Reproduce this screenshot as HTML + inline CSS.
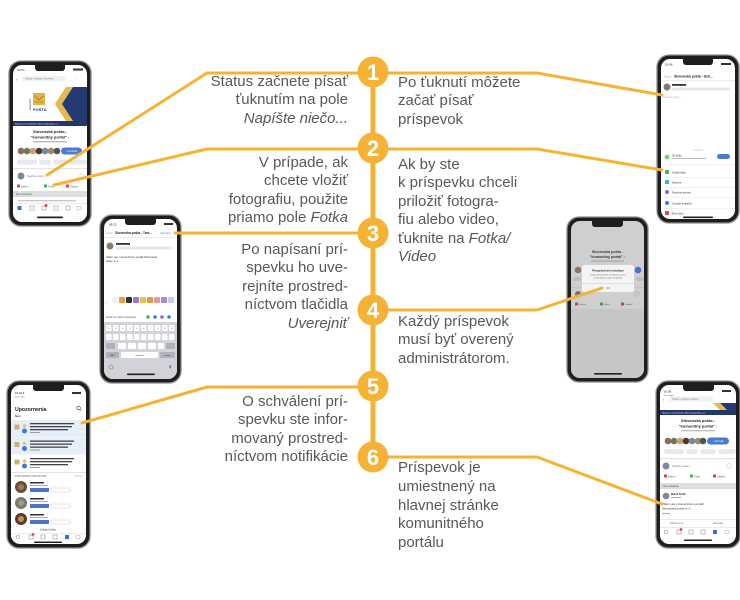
<!DOCTYPE html>
<html><head><meta charset="utf-8">
<style>
html,body{margin:0;padding:0;background:#fff;}
#wrap{position:relative;width:740px;height:600px;overflow:hidden;background:#fff;font-family:"Liberation Sans",Arial,sans-serif;}
svg{position:absolute;left:0;top:0;}
.t{position:absolute;font-size:15px;line-height:18.4px;color:#58585a;white-space:nowrap;z-index:3;}
.l{text-align:right;right:392px;}
.r{text-align:left;left:398px;}
i{font-style:italic;}
</style></head><body>
<div id="wrap">
<svg width="740" height="600" viewBox="0 0 740 600" font-family="Liberation Sans, Arial, sans-serif">
<defs>
<clipPath id="c4"><rect x="571" y="221" width="73" height="157" rx="9"/></clipPath>
<clipPath id="c3"><rect x="104" y="219" width="73" height="160" rx="9"/></clipPath>
</defs>

<!-- ============ PHONE 1 ============ -->
<rect x="9" y="61" width="82" height="165" rx="12" fill="#1e1e1e" stroke="#8e8e8e" stroke-width="1.3"/>
<rect x="13" y="65" width="74" height="157" rx="9" fill="#fff"/>
<path d="M35 65 h30 v3 a3 3 0 0 1 -3 3 h-24 a3 3 0 0 1 -3 -3z" fill="#1e1e1e"/>
<text x="17" y="71" font-size="3" fill="#222">10:04</text>
<rect x="73" y="68.5" width="10" height="2" fill="#333"/>
<text x="16" y="81" font-size="4" fill="#333">‹</text>
<rect x="22" y="76" width="44" height="5" rx="2.5" fill="#eef0f3"/>
<text x="25" y="79.6" font-size="2.4" fill="#888">Hľadať v skupine Slovensk...</text>
<text x="74" y="80" font-size="3" fill="#444">···</text>
<!-- banner -->
<rect x="33" y="93" width="12" height="12" fill="#e5b447"/>
<path d="M35 96 l4 4 l4 -4 M35 102 h8" stroke="#8a6a2a" stroke-width="0.6" fill="none"/>
<text x="33" y="111" font-size="4" font-weight="bold" fill="#1e3a78">POŠTA</text>
<text x="0" y="0" font-size="2.4" fill="#1e3a78" transform="translate(31,110) rotate(-90)">Slovenská</text>
<polygon points="66,87 73,87 62,104 73,121 66,121 55,104" fill="#e9b84a"/>
<polygon points="73,87 87,87 87,121 73,121 62,104" fill="#233a72"/>
<rect x="13" y="121" width="74" height="5" fill="#23386a"/>
<text x="15" y="124.5" font-size="2.2" fill="#fff">Skupina na Facebooku Slovenská pošta, a.s.</text>
<text x="50" y="133" font-size="4" font-weight="bold" fill="#222" text-anchor="middle">Slovenská pošta -</text>
<text x="50" y="138.5" font-size="4" font-weight="bold" fill="#222" text-anchor="middle">"komunitný portál" ·</text>
<rect x="33" y="141" width="34" height="1.4" fill="#bbb"/>
<circle cx="21" cy="151" r="3.3" fill="#8a6d5a"/><circle cx="27" cy="151" r="3.3" fill="#6d7a5a"/>
<circle cx="33" cy="151" r="3.3" fill="#c9a07a"/><circle cx="39" cy="151" r="3.3" fill="#4a3a30"/>
<circle cx="45" cy="151" r="3.3" fill="#7a8a9a"/><circle cx="51" cy="151" r="3.3" fill="#a08a6a"/>
<circle cx="57" cy="151" r="3.3" fill="#4a5a4a"/>
<rect x="61" y="147.5" width="21" height="7" rx="3.5" fill="#4a7bd0"/>
<text x="71.5" y="152" font-size="2.8" fill="#fff" text-anchor="middle">+ Pozvať</text>
<rect x="17" y="159.5" width="20" height="5" rx="2.5" fill="#e8e9ec"/>
<rect x="39" y="159.5" width="12" height="5" rx="2.5" fill="#e8e9ec"/>
<rect x="53" y="159.5" width="14" height="5" rx="2.5" fill="#e8e9ec"/>
<rect x="69" y="159.5" width="18" height="5" rx="2.5" fill="#e8e9ec"/>
<rect x="13" y="168" width="74" height="1.2" fill="#e4e4e4"/>
<circle cx="21" cy="176" r="3.5" fill="#7a8a9a"/>
<text x="27" y="177" font-size="2.8" fill="#777">Napíšte niečo...</text>
<circle cx="81" cy="176" r="2.4" fill="none" stroke="#ccc" stroke-width="0.6"/>
<rect x="17" y="184.5" width="3" height="3" fill="#e0454a"/><text x="21" y="187.3" font-size="2.4" fill="#666">Naživo</text>
<rect x="44" y="184.5" width="3" height="3" fill="#45b057"/><text x="48" y="187.3" font-size="2.4" fill="#666">Fotka</text>
<rect x="66" y="184.5" width="3" height="3" fill="#e0454a"/><text x="70" y="187.3" font-size="2.4" fill="#666">Udalosť</text>
<rect x="13" y="191" width="74" height="6" fill="#dcdde0"/>
<text x="16" y="195" font-size="2.3" fill="#555">Nové príspevky</text>
<rect x="18" y="200" width="58" height="1.4" fill="#c8c8c8"/>
<rect x="13" y="203" width="74" height="0.6" fill="#ddd"/>
<rect x="17.5" y="206" width="4" height="4" fill="#3b6fd0"/>
<rect x="30" y="206" width="4" height="4" fill="none" stroke="#999" stroke-width="0.6"/>
<rect x="42" y="206" width="4" height="4" fill="none" stroke="#999" stroke-width="0.6"/><circle cx="46" cy="205.5" r="1.5" fill="#e0454a"/>
<rect x="54" y="206" width="4" height="4" fill="none" stroke="#999" stroke-width="0.6"/>
<rect x="66" y="206" width="4" height="4" fill="none" stroke="#999" stroke-width="0.6"/>
<rect x="77" y="206.5" width="4" height="3" fill="none" stroke="#bbb" stroke-width="0.6"/>
<rect x="37" y="216.5" width="26" height="1.8" rx="0.9" fill="#222"/>

<!-- ============ PHONE 2 ============ -->
<rect x="657" y="55" width="82" height="168" rx="12" fill="#1e1e1e" stroke="#8e8e8e" stroke-width="1.3"/>
<rect x="661" y="59" width="74" height="160" rx="9" fill="#fff"/>
<path d="M683 59 h30 v3 a3 3 0 0 1 -3 3 h-24 a3 3 0 0 1 -3 -3z" fill="#1e1e1e"/>
<text x="665" y="65.5" font-size="3" fill="#222">10:06</text>
<rect x="721" y="63" width="10" height="2" fill="#333"/>
<text x="664" y="77.5" font-size="2.8" fill="#8aa3d8">Zrušiť</text>
<text x="674" y="77.5" font-size="3.4" font-weight="bold" fill="#222">Slovenská pošta - Seb...</text>
<rect x="661" y="80.5" width="74" height="0.6" fill="#ddd"/>
<circle cx="667" cy="87" r="3.5" fill="#8a7a6a"/>
<rect x="672" y="84" width="14" height="1.8" fill="#333"/>
<rect x="672" y="87.5" width="58" height="3" rx="1.5" fill="#e8e8e8"/>
<text x="663" y="98" font-size="2.6" fill="#bbb">Napíšte niečo...</text>
<rect x="693" y="149.5" width="10" height="0.8" fill="#ccc"/>
<circle cx="667" cy="157" r="2.4" fill="#6fcf8a"/>
<text x="672" y="156.5" font-size="2.6" fill="#333">3D fotka</text>
<rect x="672" y="158" width="34" height="1" fill="#bbb"/>
<rect x="717" y="154" width="13" height="5" rx="2.5" fill="#4a7bd0"/>
<rect x="664" y="164" width="71" height="0.5" fill="#e3e3e3"/>
<rect x="665" y="170" width="4" height="4" rx="0.8" fill="#47b464"/><text x="672" y="173.3" font-size="2.6" fill="#333">Fotka/Video</text>
<rect x="664" y="177" width="71" height="0.5" fill="#e3e3e3"/>
<rect x="665" y="180" width="4" height="4" rx="0.8" fill="#3bb2c4"/><text x="672" y="183.3" font-size="2.6" fill="#333">Kamera</text>
<rect x="664" y="187" width="71" height="0.5" fill="#e3e3e3"/>
<circle cx="667" cy="192" r="2" fill="#8a6ad0"/><text x="672" y="193.3" font-size="2.6" fill="#333">Pocitová aktivita</text>
<rect x="664" y="197.5" width="71" height="0.5" fill="#e3e3e3"/>
<circle cx="667" cy="203" r="2" fill="#3b7be0"/><text x="672" y="204.3" font-size="2.6" fill="#333">Označiť priateľov</text>
<rect x="664" y="208" width="71" height="0.5" fill="#e3e3e3"/>
<rect x="665" y="211" width="4" height="4" rx="0.8" fill="#e0454a"/><text x="672" y="214.3" font-size="2.6" fill="#333">Živé video</text>
<rect x="683" y="216.5" width="30" height="1.6" rx="0.8" fill="#222"/>

<!-- ============ PHONE 3 ============ -->
<rect x="100" y="215" width="81" height="168" rx="12" fill="#1e1e1e" stroke="#8e8e8e" stroke-width="1.3"/>
<rect x="104" y="219" width="73" height="160" rx="9" fill="#fff"/>
<g clip-path="url(#c3)">
<rect x="104" y="322" width="73" height="58" fill="#d1d3d9"/>
</g>
<path d="M125 219 h31 v3 a3 3 0 0 1 -3 3 h-25 a3 3 0 0 1 -3 -3z" fill="#1e1e1e"/>
<text x="109" y="225.5" font-size="3" fill="#222">09:22</text>
<rect x="164" y="223" width="9" height="2" fill="#333"/>
<text x="106" y="234" font-size="2.6" fill="#9aa8c8">Zrušiť</text>
<text x="115" y="234" font-size="3.2" font-weight="bold" fill="#222">Slovenská pošta - Tem...</text>
<text x="160" y="234" font-size="2.6" fill="#4a7bd0">Uverejniť</text>
<rect x="104" y="237" width="73" height="0.6" fill="#ddd"/>
<circle cx="110" cy="246" r="3.5" fill="#8a7a6a"/>
<rect x="116" y="243" width="14" height="1.8" fill="#333"/>
<rect x="116" y="246.5" width="56" height="3" rx="1.5" fill="#e8e8e8"/>
<text x="106" y="258" font-size="2.7" fill="#333">Vitám vás v komunitnom portáli Slovenskej</text>
<text x="106" y="262" font-size="2.7" fill="#333">pošty, a. s.</text>
<text x="106" y="304" font-size="4" fill="#888">‹</text>
<rect x="112" y="297" width="6" height="6" rx="1" fill="#f0f0f0"/>
<rect x="119" y="297" width="6" height="6" rx="1" fill="#e7a23a"/>
<rect x="126" y="297" width="6" height="6" rx="1" fill="#333"/>
<rect x="133" y="297" width="6" height="6" rx="1" fill="#9a7ad0"/>
<rect x="140" y="297" width="6" height="6" rx="1" fill="#e9c04a"/>
<rect x="147" y="297" width="6" height="6" rx="1" fill="#e59a4a"/>
<rect x="154" y="297" width="6" height="6" rx="1" fill="#e89a9a"/>
<rect x="161" y="297" width="6" height="6" rx="1" fill="#a98ad8"/>
<rect x="168" y="297" width="6" height="6" rx="1" fill="#c8c8e8"/>
<text x="106" y="318" font-size="2.6" fill="#555">Pridať do vášho príspevku</text>
<circle cx="148" cy="317" r="1.8" fill="#47b464"/><circle cx="155" cy="317" r="1.8" fill="#3b7be0"/>
<circle cx="162" cy="317" r="1.8" fill="#8a6ad0"/><circle cx="169" cy="317" r="1.8" fill="#3b7be0"/>
<g fill="#fff">
<rect x="106" y="325" width="5.5" height="6" rx="0.8"/><rect x="113" y="325" width="5.5" height="6" rx="0.8"/><rect x="120" y="325" width="5.5" height="6" rx="0.8"/><rect x="127" y="325" width="5.5" height="6" rx="0.8"/><rect x="134" y="325" width="5.5" height="6" rx="0.8"/><rect x="141" y="325" width="5.5" height="6" rx="0.8"/><rect x="148" y="325" width="5.5" height="6" rx="0.8"/><rect x="155" y="325" width="5.5" height="6" rx="0.8"/><rect x="162" y="325" width="5.5" height="6" rx="0.8"/><rect x="169" y="325" width="5.5" height="6" rx="0.8"/>
<rect x="106" y="334" width="5.5" height="6" rx="0.8"/><rect x="113" y="334" width="5.5" height="6" rx="0.8"/><rect x="120" y="334" width="5.5" height="6" rx="0.8"/><rect x="127" y="334" width="5.5" height="6" rx="0.8"/><rect x="134" y="334" width="5.5" height="6" rx="0.8"/><rect x="141" y="334" width="5.5" height="6" rx="0.8"/><rect x="148" y="334" width="5.5" height="6" rx="0.8"/><rect x="155" y="334" width="5.5" height="6" rx="0.8"/><rect x="162" y="334" width="5.5" height="6" rx="0.8"/><rect x="169" y="334" width="5.5" height="6" rx="0.8"/>
<rect x="118" y="343" width="8" height="6" rx="0.8"/><rect x="128" y="343" width="8" height="6" rx="0.8"/><rect x="138" y="343" width="8" height="6" rx="0.8"/><rect x="148" y="343" width="8" height="6" rx="0.8"/><rect x="158" y="343" width="6" height="6" rx="0.8"/>
<rect x="121" y="352" width="37" height="6" rx="0.8"/>
</g>
<g fill="#aeb2bb">
<rect x="106" y="343" width="9" height="6" rx="0.8"/><rect x="166" y="343" width="9" height="6" rx="0.8"/>
<rect x="106" y="352" width="13" height="6" rx="0.8"/><rect x="160" y="352" width="15" height="6" rx="0.8"/>
</g>
<g font-size="2.2" fill="#333" text-anchor="middle">
<text x="108.8" y="329.2">1</text><text x="115.8" y="329.2">2</text><text x="122.8" y="329.2">3</text><text x="129.8" y="329.2">4</text><text x="136.8" y="329.2">5</text><text x="143.8" y="329.2">6</text><text x="150.8" y="329.2">7</text><text x="157.8" y="329.2">8</text><text x="164.8" y="329.2">9</text><text x="171.8" y="329.2">0</text>
<text x="139.5" y="356.2">medzera</text><text x="112.5" y="356.2">ABC</text><text x="167.5" y="356.2">return</text>
</g>
<circle cx="111" cy="367" r="2" fill="none" stroke="#777" stroke-width="0.6"/>
<rect x="169.5" y="365" width="1.6" height="3.5" rx="0.8" fill="#777"/>
<rect x="127" y="373.5" width="28" height="1.6" rx="0.8" fill="#222"/>

<!-- ============ PHONE 4 ============ -->
<rect x="567" y="217" width="81" height="165" rx="12" fill="#1e1e1e" stroke="#8e8e8e" stroke-width="1.3"/>
<rect x="571" y="221" width="73" height="157" rx="9" fill="#cfcfcf"/>
<path d="M592 221 h31 v3 a3 3 0 0 1 -3 3 h-25 a3 3 0 0 1 -3 -3z" fill="#1e1e1e"/>
<g clip-path="url(#c4)">
<text x="607.5" y="253" font-size="3.7" font-weight="bold" fill="#3a3a3a" text-anchor="middle">Slovenská pošta -</text>
<text x="607.5" y="258" font-size="3.7" font-weight="bold" fill="#3a3a3a" text-anchor="middle">"komunitný portál" ·</text>
<rect x="591" y="260.5" width="33" height="1.2" fill="#a8a8a8"/>
<circle cx="578" cy="270" r="3.3" fill="#8a7666"/>
<circle cx="638" cy="270" r="3.3" fill="#4a72c4"/>
<rect x="573" y="277" width="8" height="4" rx="2" fill="#bdbdbd"/>
<rect x="636" y="277" width="8" height="4" rx="2" fill="#bdbdbd"/>
<rect x="571" y="287" width="73" height="0.6" fill="#bbb"/>
<circle cx="578" cy="294" r="3" fill="#7a7066"/>
<circle cx="637" cy="294" r="2.2" fill="none" stroke="#aaa" stroke-width="0.6"/>
<rect x="575" y="302.5" width="3" height="3" fill="#c04a4a"/><text x="579" y="305" font-size="2.2" fill="#555">Naživo</text>
<rect x="600" y="302.5" width="3" height="3" fill="#4a9a5a"/><text x="604" y="305" font-size="2.2" fill="#555">Fotka</text>
<rect x="621" y="302.5" width="3" height="3" fill="#c04a4a"/><text x="625" y="305" font-size="2.2" fill="#555">Udalosť</text>
<rect x="571" y="309" width="73" height="69" fill="#c6c6c6"/>
</g>
<rect x="582" y="265" width="52" height="27" rx="2.5" fill="#f4f4f4"/>
<text x="608" y="271.5" font-size="2.8" font-weight="bold" fill="#222" text-anchor="middle">Príspevok bol odoslaný</text>
<text x="608" y="275.5" font-size="2" fill="#555" text-anchor="middle">Váš príspevok bude zverejnený, keď ho</text>
<text x="608" y="278.3" font-size="2" fill="#555" text-anchor="middle">schváli správca alebo moderátor.</text>
<rect x="582" y="283" width="52" height="0.5" fill="#ccc"/>
<text x="608" y="289" font-size="2.8" fill="#4a7bd0" text-anchor="middle">OK</text>
<rect x="594" y="373" width="28" height="1.6" rx="0.8" fill="#222"/>

<!-- ============ PHONE 5 ============ -->
<rect x="7" y="381" width="83" height="167" rx="12" fill="#1e1e1e" stroke="#8e8e8e" stroke-width="1.3"/>
<rect x="11" y="385" width="75" height="159" rx="9" fill="#fff"/>
<path d="M33 385 h31 v3 a3 3 0 0 1 -3 3 h-25 a3 3 0 0 1 -3 -3z" fill="#1e1e1e"/>
<text x="15" y="394" font-size="2.8" fill="#222">10:04 ▾</text>
<text x="15" y="397.5" font-size="2" fill="#666">Messenger</text>
<rect x="72" y="392" width="9" height="2" fill="#333"/>
<text x="15" y="411" font-size="5.2" font-weight="bold" fill="#222">Upozornenia</text>
<circle cx="78.5" cy="408" r="1.8" fill="none" stroke="#333" stroke-width="0.6"/>
<path d="M79.8 409.3 l1.4 1.4" stroke="#333" stroke-width="0.6"/>
<text x="15" y="417" font-size="2.3" font-weight="bold" fill="#333">Nové</text>
<rect x="11" y="420" width="75" height="17" fill="#e6eefa"/>
<rect x="11" y="437.5" width="75" height="17" fill="#e6eefa"/>
<g>
<rect x="14.5" y="424.5" width="5" height="5" fill="#c9b07a"/><circle cx="24.5" cy="426" r="1.8" fill="#e7c96a"/><circle cx="24.5" cy="431" r="2.5" fill="#3b7be0"/>
<rect x="30" y="423" width="44" height="1.3" fill="#444"/><rect x="30" y="426" width="42" height="1.3" fill="#444"/><rect x="30" y="429" width="38" height="1.3" fill="#444"/><rect x="30" y="432" width="10" height="1" fill="#999"/>
<text x="78" y="429" font-size="3" fill="#444">···</text>
</g>
<g transform="translate(0,17.5)">
<rect x="14.5" y="424.5" width="5" height="5" fill="#c9b07a"/><circle cx="24.5" cy="426" r="1.8" fill="#e7c96a"/><circle cx="24.5" cy="431" r="2.5" fill="#3b7be0"/>
<rect x="30" y="423" width="44" height="1.3" fill="#444"/><rect x="30" y="426" width="42" height="1.3" fill="#444"/><rect x="30" y="429" width="38" height="1.3" fill="#444"/><rect x="30" y="432" width="10" height="1" fill="#999"/>
<text x="78" y="429" font-size="3" fill="#444">···</text>
</g>
<g transform="translate(0,35)">
<rect x="14.5" y="424.5" width="5" height="5" fill="#c9b07a"/><circle cx="24.5" cy="426" r="1.8" fill="#e7c96a"/><circle cx="24.5" cy="431" r="2.5" fill="#3b7be0"/>
<rect x="30" y="423" width="44" height="1.3" fill="#444"/><rect x="30" y="426" width="42" height="1.3" fill="#444"/><rect x="30" y="429" width="38" height="1.3" fill="#444"/><rect x="30" y="432" width="10" height="1" fill="#999"/>
<text x="78" y="429" font-size="3" fill="#444">···</text>
</g>
<rect x="11" y="472" width="75" height="0.8" fill="#ddd"/>
<text x="15" y="476.5" font-size="2.2" font-weight="bold" fill="#333">Ľudia, ktorých možno poznáte</text>
<text x="75" y="476.5" font-size="2" fill="#888">Zobraziť</text>
<circle cx="21" cy="487" r="6" fill="#6a4a3a"/><circle cx="21" cy="487" r="3" fill="#a07a5a"/>
<rect x="30" y="482" width="14" height="1.5" fill="#333"/><rect x="30" y="485" width="18" height="1" fill="#aaa"/>
<rect x="30" y="488" width="19" height="4" rx="0.6" fill="#4a72c4"/><rect x="51" y="488" width="19" height="4" rx="0.6" fill="#fff" stroke="#ccc" stroke-width="0.5"/>
<circle cx="21" cy="503" r="6" fill="#7a7a6a"/><circle cx="21" cy="503" r="3" fill="#9a9a8a"/>
<rect x="30" y="498" width="14" height="1.5" fill="#333"/><rect x="30" y="501" width="18" height="1" fill="#aaa"/>
<rect x="30" y="504" width="19" height="4" rx="0.6" fill="#4a72c4"/><rect x="51" y="504" width="19" height="4" rx="0.6" fill="#fff" stroke="#ccc" stroke-width="0.5"/>
<circle cx="21" cy="519" r="6" fill="#5a3a2a"/><circle cx="21" cy="519" r="3" fill="#c09060"/>
<rect x="30" y="514" width="14" height="1.5" fill="#333"/><rect x="30" y="517" width="18" height="1" fill="#aaa"/>
<rect x="30" y="520" width="19" height="4" rx="0.6" fill="#4a72c4"/><rect x="51" y="520" width="19" height="4" rx="0.6" fill="#fff" stroke="#ccc" stroke-width="0.5"/>
<text x="48" y="530.5" font-size="2.3" fill="#333" text-anchor="middle">Zobraziť všetky</text>
<rect x="11" y="533" width="75" height="0.5" fill="#ddd"/>
<circle cx="18" cy="537" r="1.8" fill="none" stroke="#999" stroke-width="0.6"/>
<rect x="29" y="535" width="4" height="4" fill="none" stroke="#999" stroke-width="0.6"/><circle cx="33" cy="534.5" r="1.4" fill="#e0454a"/>
<rect x="41" y="535" width="4" height="4" fill="none" stroke="#999" stroke-width="0.6"/>
<rect x="53" y="535" width="4" height="4" fill="none" stroke="#999" stroke-width="0.6"/>
<rect x="65" y="535" width="4" height="4" fill="#3b6fd0"/>
<rect x="76" y="535.5" width="4" height="3" fill="none" stroke="#bbb" stroke-width="0.6"/>
<rect x="34" y="541.5" width="28" height="1.5" rx="0.75" fill="#222"/>

<!-- ============ PHONE 6 ============ -->
<rect x="656" y="381" width="84" height="167" rx="12" fill="#1e1e1e" stroke="#8e8e8e" stroke-width="1.3"/>
<rect x="660" y="385" width="76" height="159" rx="9" fill="#fff"/>
<path d="M683 385 h31 v3 a3 3 0 0 1 -3 3 h-25 a3 3 0 0 1 -3 -3z" fill="#1e1e1e"/>
<text x="664" y="392.5" font-size="2.8" fill="#222">10:08</text>
<text x="664" y="395.8" font-size="2" fill="#666">Messenger</text>
<rect x="722" y="390" width="9" height="2" fill="#333"/>
<text x="663" y="401" font-size="4" fill="#333">‹</text>
<rect x="669" y="396.5" width="44" height="5" rx="2.5" fill="#eef0f3"/>
<text x="672" y="400" font-size="2.4" fill="#888">Hľadať v skupine Sloven...</text>
<text x="726" y="400.5" font-size="3" fill="#444">···</text>
<polygon points="713,403 720,403 727,410 720,410" fill="#e9b84a"/>
<polygon points="720,403 736,403 736,410 727,410" fill="#233a72"/>
<rect x="660" y="410" width="76" height="5" fill="#23386a"/>
<text x="662" y="413.5" font-size="2.2" fill="#fff">Skupina na Facebooku Slovenská pošta, a.s.</text>
<text x="698" y="422" font-size="4" font-weight="bold" fill="#222" text-anchor="middle">Slovenská pošta -</text>
<text x="698" y="427.5" font-size="4" font-weight="bold" fill="#222" text-anchor="middle">"komunitný portál" ·</text>
<rect x="681" y="430" width="34" height="1.3" fill="#bbb"/>
<circle cx="668" cy="441" r="3.3" fill="#8a6d5a"/><circle cx="674" cy="441" r="3.3" fill="#6d7a5a"/>
<circle cx="680" cy="441" r="3.3" fill="#c9a07a"/><circle cx="686" cy="441" r="3.3" fill="#4a3a30"/>
<circle cx="692" cy="441" r="3.3" fill="#7a8a9a"/><circle cx="698" cy="441" r="3.3" fill="#a08a6a"/>
<circle cx="703" cy="441" r="3.3" fill="#4a5a4a"/>
<rect x="707" y="437.5" width="22" height="7" rx="3.5" fill="#4a7bd0"/>
<text x="718" y="442" font-size="2.8" fill="#fff" text-anchor="middle">+ Pozvať</text>
<rect x="664" y="449" width="20" height="5" rx="2.5" fill="#e8e9ec"/>
<rect x="686" y="449" width="12" height="5" rx="2.5" fill="#e8e9ec"/>
<rect x="700" y="449" width="16" height="5" rx="2.5" fill="#e8e9ec"/>
<rect x="718" y="449" width="18" height="5" rx="2.5" fill="#e8e9ec"/>
<rect x="660" y="458" width="76" height="1.2" fill="#e4e4e4"/>
<circle cx="666" cy="466" r="3.5" fill="#7a8a9a"/>
<text x="672" y="467" font-size="2.8" fill="#777">Napíšte niečo...</text>
<circle cx="729" cy="466" r="2.4" fill="none" stroke="#ccc" stroke-width="0.6"/>
<rect x="664" y="474.5" width="3" height="3" fill="#e0454a"/><text x="668" y="477.3" font-size="2.4" fill="#666">Naživo</text>
<rect x="690" y="474.5" width="3" height="3" fill="#45b057"/><text x="694" y="477.3" font-size="2.4" fill="#666">Fotka</text>
<rect x="713" y="474.5" width="3" height="3" fill="#e0454a"/><text x="717" y="477.3" font-size="2.4" fill="#666">Udalosť</text>
<rect x="660" y="483" width="76" height="6" fill="#dcdde0"/>
<text x="663" y="487" font-size="2.3" fill="#555">Nové príspevky</text>
<circle cx="666" cy="496" r="3.3" fill="#7a8a9a"/>
<text x="671" y="495" font-size="2.5" font-weight="bold" fill="#222">Marek Smith</text>
<rect x="671" y="497" width="10" height="1" fill="#aaa"/>
<text x="727" y="495" font-size="3" fill="#444">···</text>
<text x="662" y="505" font-size="3" fill="#333">Vitám vás v komunitnom portáli</text>
<text x="662" y="509.5" font-size="3" fill="#333">Slovenskej pošty a. s.</text>
<rect x="662" y="513" width="8" height="1" fill="#aaa"/>
<rect x="660" y="519" width="76" height="0.6" fill="#ddd"/>
<text x="670" y="524" font-size="2.3" fill="#666">Páči sa mi to</text>
<text x="713" y="524" font-size="2.3" fill="#666">Komentár</text>
<rect x="660" y="527" width="76" height="0.6" fill="#ddd"/>
<circle cx="666" cy="532" r="1.8" fill="none" stroke="#999" stroke-width="0.6"/>
<rect x="677" y="530" width="4" height="4" fill="none" stroke="#999" stroke-width="0.6"/><circle cx="681" cy="529.5" r="1.4" fill="#e0454a"/>
<rect x="689" y="530" width="4" height="4" fill="none" stroke="#999" stroke-width="0.6"/>
<rect x="701" y="530" width="4" height="4" fill="none" stroke="#999" stroke-width="0.6"/>
<rect x="713" y="530" width="4" height="4" fill="#3b6fd0"/>
<rect x="725" y="530.5" width="4" height="3" fill="none" stroke="#bbb" stroke-width="0.6"/>
<rect x="684" y="539.5" width="28" height="1.5" rx="0.75" fill="#222"/>

<!-- ============ CONNECTORS ============ -->
<g stroke="#F5B335" fill="none" stroke-linejoin="round" stroke-linecap="round">
<line x1="373" y1="72" x2="373" y2="457" stroke-width="5"/>
<polyline points="373,73 207,73 47,175" stroke-width="3"/>
<polyline points="373,149 207,149 54,185" stroke-width="3"/>
<polyline points="373,233 175,233" stroke-width="3"/>
<polyline points="373,387 207,387 82,423" stroke-width="3"/>
<polyline points="373,73 537,73 662,95" stroke-width="3"/>
<polyline points="373,149 537,149 662,170" stroke-width="3"/>
<polyline points="373,310 537,310 602,288" stroke-width="3"/>
<polyline points="373,457 537,457 662,504" stroke-width="3"/>
</g>
<g fill="#F5B335">
<circle cx="373" cy="72" r="15.5"/>
<circle cx="373" cy="148" r="15.5"/>
<circle cx="373" cy="233" r="15.5"/>
<circle cx="373" cy="310" r="15.5"/>
<circle cx="373" cy="386" r="15.5"/>
<circle cx="373" cy="457" r="15.5"/>
</g>
<g fill="#fff" font-size="22" font-weight="bold" text-anchor="middle">
<text x="373" y="80">1</text>
<text x="373" y="156">2</text>
<text x="373" y="241">3</text>
<text x="373" y="318">4</text>
<text x="373" y="394">5</text>
<text x="373" y="465">6</text>
</g>
</svg>

<div class="t l" style="top:73px">Status začnete písať<br>ťuknutím na pole<br><i>Napíšte niečo...</i></div>
<div class="t l" style="top:154px">V prípade, ak<br>chcete vložiť<br>fotografiu, použite<br>priamo pole <i>Fotka</i></div>
<div class="t l" style="top:241px">Po napísaní prí-<br>spevku ho uve-<br>rejníte prostred-<br>níctvom tlačidla<br><i>Uverejniť</i></div>
<div class="t l" style="top:393px">O schválení prí-<br>spevku ste infor-<br>movaný prostred-<br>níctvom notifikácie</div>

<div class="t r" style="top:74px">Po ťuknutí môžete<br>začať písať<br>príspevok</div>
<div class="t r" style="top:156px">Ak by ste<br>k príspevku chceli<br>priložiť fotogra-<br>fiu alebo video,<br>ťuknite na <i>Fotka/<br>Video</i></div>
<div class="t r" style="top:313px">Každý príspevok<br>musí byť overený<br>administrátorom.</div>
<div class="t r" style="top:459px;line-height:18.8px">Príspevok je<br>umiestnený na<br>hlavnej stránke<br>komunitného<br>portálu</div>
</div>
</body></html>
